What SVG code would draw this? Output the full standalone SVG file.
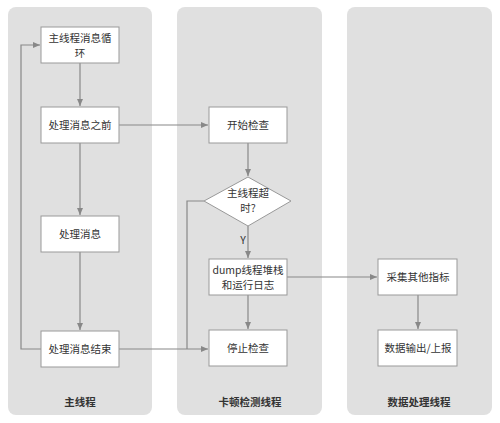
<svg xmlns="http://www.w3.org/2000/svg" width="500" height="423" viewBox="0 0 500 423">
<defs>
<marker id="ah" markerWidth="8" markerHeight="8" refX="7" refY="4" orient="auto" markerUnits="userSpaceOnUse">
<path d="M0,1 L7,4 L0,7 Z" fill="#888"/>
</marker>
<style>
.lane{fill:#e0e0e0;}
.node{fill:#fff;stroke:#999;stroke-width:1;}
.t{font-family:"Noto Sans CJK SC","Noto Sans",sans-serif;font-size:10.5px;fill:#333;text-anchor:middle;}
.lt{font-family:"Noto Sans CJK SC","Noto Sans",sans-serif;font-size:10.5px;font-weight:bold;fill:#333;text-anchor:middle;}
.c{fill:none;stroke:#888;stroke-width:1.2;}
</style>
</defs>
<rect width="500" height="423" fill="#fff"/>
<g id="lanes">
<rect class="lane" x="8" y="7" width="144" height="408" rx="8"/>
<rect class="lane" x="177" y="7" width="145" height="408" rx="8"/>
<rect class="lane" x="347" y="7" width="145" height="408" rx="8"/>
<text class="lt" x="80" y="406">主线程</text>
<text class="lt" x="250" y="406">卡顿检测线程</text>
<text class="lt" x="419" y="406">数据处理线程</text>
</g>
<g id="connectors">
<path class="c" d="M80,63 V106" marker-end="url(#ah)"/>
<path class="c" d="M80,143 V215" marker-end="url(#ah)"/>
<path class="c" d="M80,252 V330" marker-end="url(#ah)"/>
<path class="c" d="M41,349 H21 V45 H40" marker-end="url(#ah)"/>
<path class="c" d="M119,125 H208" marker-end="url(#ah)"/>
<path class="c" d="M248,143 V176" marker-end="url(#ah)"/>
<path class="c" d="M248,226 V258" marker-end="url(#ah)"/>
<path class="c" d="M248,295 V329" marker-end="url(#ah)"/>
<path class="c" d="M204,201 H187 V349"/>
<path class="c" d="M119,349 H208" marker-end="url(#ah)"/>
<path class="c" d="M287,277 H377" marker-end="url(#ah)"/>
<path class="c" d="M418,295 V329" marker-end="url(#ah)"/>
<text class="t" x="243" y="244">Y</text>
</g>
<g id="n1"><rect class="node" x="41" y="27" width="78" height="36"/><text class="t" x="80" y="42">主线程消息循</text><text class="t" x="80" y="57">环</text></g>
<g id="n2"><rect class="node" x="41" y="107" width="78" height="36"/><text class="t" x="80" y="129">处理消息之前</text></g>
<g id="n3"><rect class="node" x="41" y="216" width="78" height="36"/><text class="t" x="80" y="238">处理消息</text></g>
<g id="n4"><rect class="node" x="41" y="331" width="78" height="36"/><text class="t" x="80" y="353">处理消息结束</text></g>
<g id="n5"><rect class="node" x="209" y="107" width="78" height="36"/><text class="t" x="248" y="129">开始检查</text></g>
<g id="n6"><path class="node" d="M248,177 L291,201 L248,226 L204,201 Z"/><text class="t" x="248" y="197">主线程超</text><text class="t" x="248" y="212">时?</text></g>
<g id="n7"><rect class="node" x="209" y="259" width="78" height="36"/><text class="t" x="248" y="274">dump线程堆栈</text><text class="t" x="248" y="289">和运行日志</text></g>
<g id="n8"><rect class="node" x="209" y="330" width="78" height="36"/><text class="t" x="248" y="352">停止检查</text></g>
<g id="n9"><rect class="node" x="378" y="259" width="79" height="36"/><text class="t" x="418" y="281">采集其他指标</text></g>
<g id="n10"><rect class="node" x="378" y="330" width="79" height="36"/><text class="t" x="418" y="352">数据输出/上报</text></g>
</svg>
